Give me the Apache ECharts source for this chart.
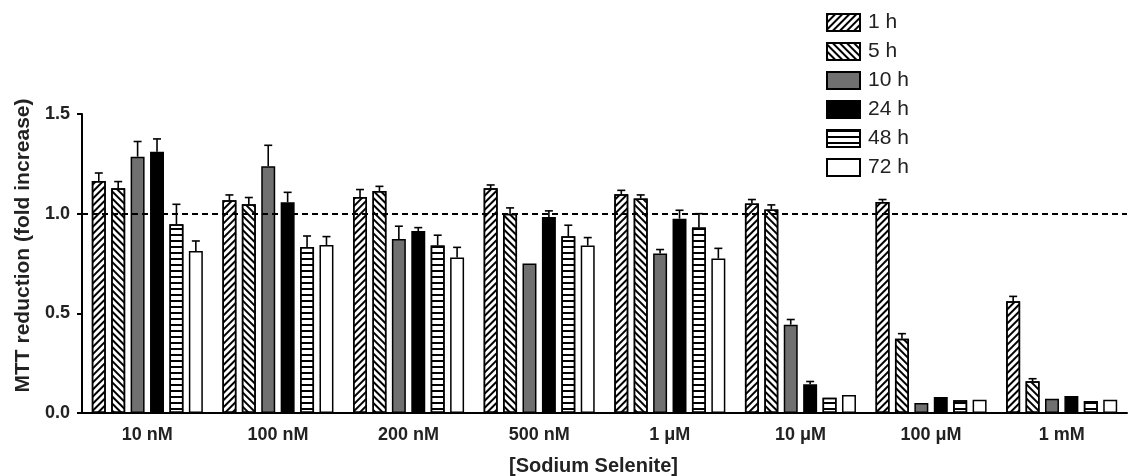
<!DOCTYPE html>
<html>
<head>
<meta charset="utf-8">
<script src="https://cdn.jsdelivr.net/npm/echarts@6/dist/echarts.min.js"></script>
<style>
  html, body { margin: 0; padding: 0; background: #fff; }
  #chart { width: 1134px; height: 476px; }
</style>
</head>
<body>
<div id="chart"></div>
<script>
const categories = ["10 nM", "100 nM", "200 nM", "500 nM", "1 \u03bcM", "10 \u03bcM", "100 \u03bcM", "1 mM"];
const seriesNames = ["1 h", "5 h", "10 h", "24 h", "48 h", "72 h"];

const h1 = [1.164, 1.067, 1.084, 1.127, 1.097, 1.051, 1.059, 0.560];
const h5 = [1.127, 1.047, 1.114, 1.0, 1.076, 1.021, 0.373, 0.159];
const h10 = [1.286, 1.238, 0.873, 0.750, 0.800, 0.443, 0.050, 0.072];
const h24 = [1.310, 1.057, 0.913, 0.983, 0.975, 0.144, 0.080, 0.085];
const h48 = [0.947, 0.833, 0.840, 0.887, 0.930, 0.077, 0.064, 0.060];
const h72 = [0.813, 0.843, 0.780, 0.840, 0.775, 0.090, 0.067, 0.067];

// upper error (SEM), only drawn upward
const e1 = [0.040, 0.027, 0.037, 0.017, 0.020, 0.020, 0.012, 0.025];
const e5 = [0.034, 0.034, 0.023, 0.029, 0.018, 0.023, 0.025, 0.013];
const e10 = [0.076, 0.105, 0.064, 0, 0.020, 0.026, 0, 0];
const e24 = [0.065, 0.050, 0.017, 0.031, 0.042, 0.014, 0, 0];
const e48 = [0.100, 0.055, 0.052, 0.055, 0.070, 0, 0, 0];
const e72 = [0.050, 0.042, 0.051, 0.040, 0.051, 0, 0, 0];

const values = [h1, h5, h10, h24, h48, h72];
const errors = [e1, e5, e10, e24, e48, e72];

const FONT = "Liberation Sans, Arial, sans-serif";
const CAT_GAP = 0.15;
const BAR_GAP = 0.39;

const styles = [
  { color: "#fff", decal: { symbol: "rect", symbolSize: 1, dashArrayX: [1, 0], dashArrayY: [2, 2.2], rotation: -Math.PI / 4, color: "#000" } },
  { color: "#fff", decal: { symbol: "rect", symbolSize: 1, dashArrayX: [1, 0], dashArrayY: [1.3, 2.2], rotation: Math.PI / 4, color: "#000" } },
  { color: "#707070" },
  { color: "#000" },
  { color: "#fff", decal: { symbol: "rect", symbolSize: 1, dashArrayX: [1, 0], dashArrayY: [1.3, 3.5], rotation: 0, color: "#000" } },
  { color: "#fff" }
];

const barSeries = seriesNames.map((name, i) => ({
  name: name,
  type: "bar",
  data: values[i],
  barCategoryGap: "15%",
  barGap: "39%",
  itemStyle: Object.assign({ borderColor: "#000", borderWidth: 1.5 }, styles[i]),
  emphasis: { disabled: true },
  markLine: i === 0 ? {
    silent: true,
    symbol: "none",
    label: { show: false },
    lineStyle: { color: "#000", type: [6, 4], width: 2 },
    data: [{ yAxis: 1 }]
  } : undefined
}));

const errData = [];
values.forEach((vals, s) => {
  vals.forEach((v, c) => {
    if (errors[s][c] > 0) errData.push([c, s, v, errors[s][c]]);
  });
});

const errSeries = {
  type: "custom",
  name: "err",
  z: 5,
  data: errData,
  renderItem: function (params, api) {
    const c = api.value(0), s = api.value(1), v = api.value(2), e = api.value(3);
    const band = api.size([1, 0])[0];
    const n = seriesNames.length;
    const w = band * (1 - CAT_GAP) / (n + (n - 1) * BAR_GAP);
    const total = n * w + (n - 1) * w * BAR_GAP;
    const base = api.coord([c, v]);
    const top = api.coord([c, v + e]);
    const x = base[0] - total / 2 + w / 2 + s * w * (1 + BAR_GAP);
    const st = { stroke: "#000", lineWidth: 1.6 };
    return {
      type: "group",
      children: [
        { type: "line", shape: { x1: x, y1: base[1], x2: x, y2: top[1] }, style: st },
        { type: "line", shape: { x1: x - 4, y1: top[1], x2: x + 4, y2: top[1] }, style: st }
      ]
    };
  }
};

const chart = echarts.init(document.getElementById("chart"));
chart.setOption({
  animation: false,
  textStyle: { fontFamily: FONT },
  legend: {
    data: seriesNames,
    orient: "vertical",
    left: 826,
    top: 12,
    padding: 0,
    icon: "rect",
    itemWidth: 33,
    itemHeight: 17,
    itemGap: 8,
    textStyle: { fontSize: 21, color: "#222", fontFamily: FONT, padding: [0, 0, 0, 3] }
  },
  grid: { left: 82, right: 7, top: 114, bottom: 63, outerBoundsMode: "none" },
  xAxis: {
    type: "category",
    data: categories,
    name: "[Sodium Selenite]",
    nameLocation: "middle",
    nameGap: 43,
    nameTextStyle: { fontSize: 20, fontWeight: "bold", color: "#222", padding: [0, 22, 0, 0] },
    axisLine: { lineStyle: { color: "#000", width: 2 } },
    axisTick: { show: false },
    axisLabel: { fontSize: 18, fontWeight: "bold", color: "#222", margin: 13 }
  },
  yAxis: {
    type: "value",
    min: 0,
    max: 1.5,
    interval: 0.5,
    name: "MTT reduction (fold increase)",
    nameLocation: "middle",
    nameGap: 37,
    nameTextStyle: { fontSize: 21, fontWeight: "bold", color: "#222", padding: [0, 0, 0, 36] },
    axisLine: { show: true, lineStyle: { color: "#000", width: 2 } },
    axisTick: { show: true, length: 5, lineStyle: { color: "#000", width: 2 } },
    splitLine: { show: false },
    axisLabel: {
      fontSize: 18, fontWeight: "bold", color: "#222", margin: 12,
      formatter: v => v.toFixed(1)
    }
  },
  series: barSeries.concat([errSeries])
});
</script>
</body>
</html>
